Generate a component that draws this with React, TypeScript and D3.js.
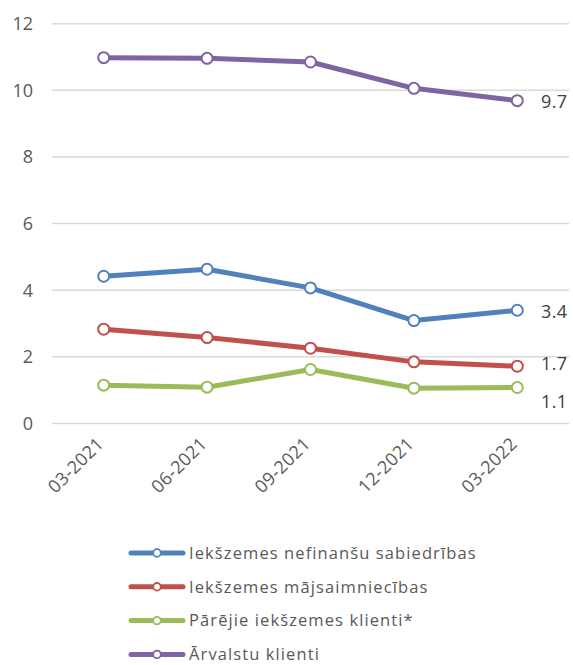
import React from "react";
import * as d3 from "d3";

const categories = ["03-2021", "06-2021", "09-2021", "12-2021", "03-2022"];
const seriesNames = [
  "Iekšzemes nefinanšu sabiedrības",
  "Iekšzemes mājsaimniecības",
  "Pārējie iekšzemes klienti*",
  "Ārvalstu klienti",
];
const nefinansu = [4.42, 4.63, 4.07, 3.09, 3.4];
const majsaimn = [2.83, 2.58, 2.26, 1.85, 1.72];
const parejie = [1.15, 1.09, 1.62, 1.06, 1.08];
const arvalstu = [10.98, 10.96, 10.85, 10.06, 9.69];
const endLabels = ["3.4", "1.7", "1.1", "9.7"];
const yTicks = [0, 2, 4, 6, 8, 10, 12];
const colors = ["#4F81BD", "#C0504D", "#9BBB59", "#8064A2"];

const W = 573;
const H = 665;
const FONT = "'Open Sans', 'Liberation Sans', sans-serif";

export default function App() {
  const x = d3.scaleBand<string>().domain(categories).range([52, 569]);
  const y = d3.scaleLinear().domain([0, 12]).range([423.5, 23.7]);
  const cx = (c: string) => (x(c) as number) + x.bandwidth() / 2;
  const data = [nefinansu, majsaimn, parejie, arvalstu];
  const line = d3
    .line<number>()
    .x((_, i) => cx(categories[i]))
    .y((d) => y(d));
  const labelDy = [8, 4, 20, 7];

  return (
    <svg width={W} height={H} style={{ position: "absolute", left: 0, top: 0 }}>
      <rect width={W} height={H} fill="#fff" />
      {yTicks.map((t) => (
        <g key={t}>
          <line x1={52} x2={569} y1={y(t)} y2={y(t)} stroke="#D9D9D9" strokeWidth={1.5} />
          <text x={33} y={y(t)} dy="0.36em" textAnchor="end" fontFamily={FONT} fontSize={18} fill="#595959">
            {t}
          </text>
        </g>
      ))}
      {categories.map((c) => (
        <text
          key={c}
          transform={`translate(${cx(c) + 1},${445}) rotate(-45)`}
          textAnchor="end"
          fontFamily={FONT}
          fontSize={18}
          letterSpacing={0.3}
          fill="#595959"
        >
          {c}
        </text>
      ))}
      {data.map((s, si) => (
        <g key={si}>
          <path d={line(s) as string} fill="none" stroke={colors[si]} strokeWidth={5} strokeLinejoin="round" />
          {s.map((v, i) => (
            <circle key={i} cx={cx(categories[i])} cy={y(v)} r={5.5} fill="#fff" stroke={colors[si]} strokeWidth={2} />
          ))}
          <text
            x={541}
            y={y(s[s.length - 1]) + labelDy[si]}
            fontFamily={FONT}
            fontSize={18}
            letterSpacing={0.4}
            fill="#404040"
          >
            {endLabels[si]}
          </text>
        </g>
      ))}
      {seriesNames.map((n, i) => {
        const ly = 553 + i * 33.8;
        return (
          <g key={n}>
            <line x1={131} x2={183} y1={ly} y2={ly} stroke={colors[i]} strokeWidth={5} strokeLinecap="round" />
            <circle cx={157} cy={ly} r={3.8} fill="#fff" stroke={colors[i]} strokeWidth={1.8} />
            <text x={189} y={ly} dy="0.35em" fontFamily={FONT} fontSize={16.5} fill="#595959" letterSpacing={1.1}>
              {n}
            </text>
          </g>
        );
      })}
    </svg>
  );
}
